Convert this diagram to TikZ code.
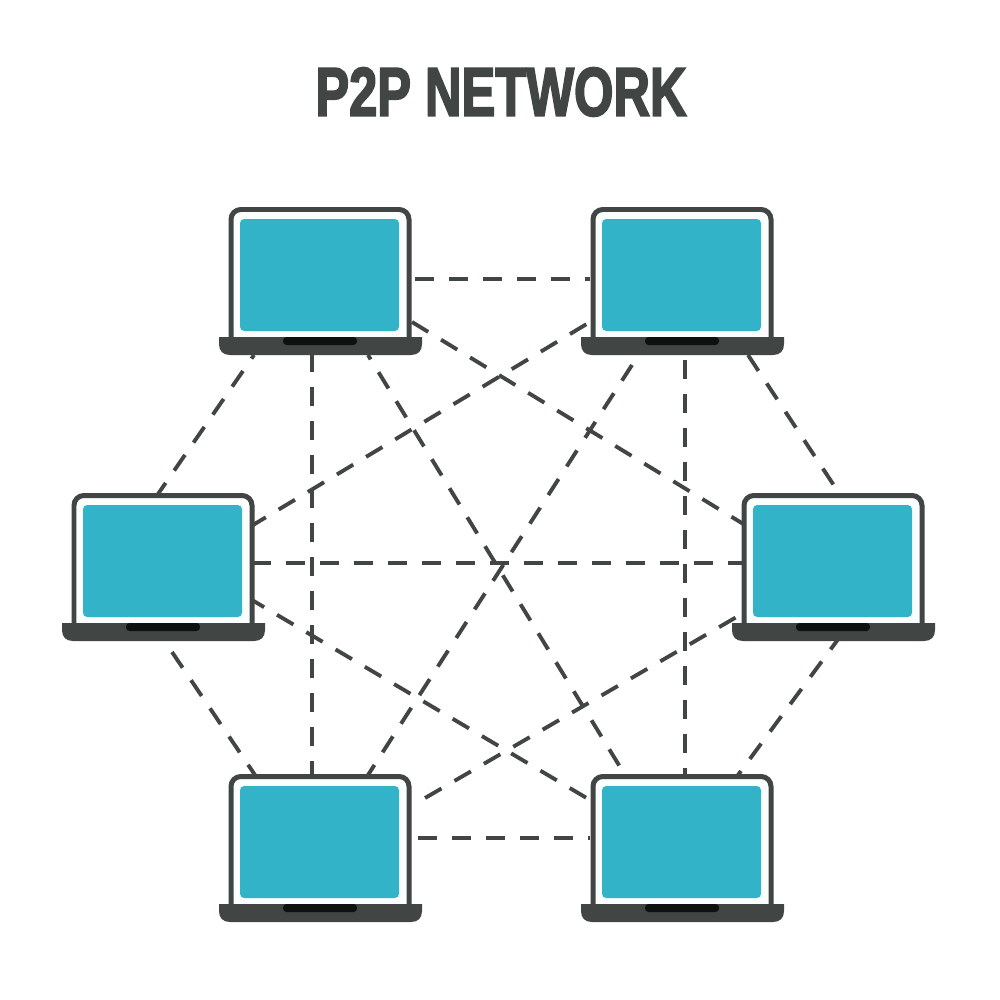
\documentclass[tikz,border=0pt]{standalone}
\usepackage{fontspec}
\newfontfamily\titlefont[UprightFont=* Bold,FakeBold=3]{Liberation Sans}
\definecolor{ink}{HTML}{414645}
\definecolor{scr}{HTML}{33B3C7}
\definecolor{notch}{HTML}{0F1111}
\definecolor{bezel}{HTML}{FBFEFE}
\tikzset{
  px/.style={x=0.01cm,y=-0.01cm},
  link/.style={draw=ink,line width=1.1pt,dash pattern=on 5.4pt off 4.27pt},
  laptopbox/.style={minimum width=2.03cm,minimum height=1.48cm,inner sep=0pt,outer sep=0pt},
  pics/laptop/.style={code={
    \draw[draw=ink,fill=bezel,line width=1.42pt,rounded corners=2.8pt] (-89,62) -- (-89,-70.5) -- (89,-70.5) -- (89,62);
    \fill[scr,rounded corners=1.2pt] (-80,-61) rectangle (79,51);
    \fill[ink] (-101,57) -- (102,57) -- (102,64) .. controls (102,71) and (98,75) .. (91,75) -- (-90,75) .. controls (-97,75) and (-101,71) .. (-101,64) -- cycle;
    \fill[notch,rounded corners=1pt] (-37,57) rectangle (37,65);
  }}
}
\begin{document}
\begin{tikzpicture}[px]
\useasboundingbox[fill=white] (0,0) rectangle (1000,1000);
\node[text=ink,inner sep=0pt] (title) at (501,92) {\resizebox{3.71cm}{0.48cm}{\titlefont P2P NETWORK}};
\node[laptopbox] (tl) at (320,280) {};
\node[laptopbox] (tr) at (682,280) {};
\node[laptopbox] (ml) at (163,566) {};
\node[laptopbox] (mr) at (833,566) {};
\node[laptopbox] (bl) at (320,847) {};
\node[laptopbox] (br) at (682,847) {};
\foreach \p/\a/\b/\q/\c/\d/\ph in {
 tl/95/-1/tr/-92/-1/0,
 tl/-66/75/ml/-5/-72/4.15,
 tl/-8/75/bl/-8/-72/0.57,
 br/-57/-72/tl/48/75/6.5,
 tl/92/42/mr/-88/-41/0,
 ml/90/-41/tr/-92/42/1.14,
 bl/48/-72/tr/-50/85/2,
 tr/3/75/br/3/-72/8.25,
 tr/66/75/mr/2/-79/0,
 ml/91/-3/mr/-91/-3/0.57,
 ml/9/86/bl/-65/-72/0,
 ml/89/34/br/-92/-47/1.4,
 bl/93/-42/mr/-93/49/5.7,
 mr/6/72/br/56/-72/1.37,
 bl/98/-9/br/-92/-9/0}
 {\draw[link,dash phase=\ph pt] ([shift={(\a,\b)}]\p.center) -- ([shift={(\c,\d)}]\q.center);}
\foreach \n in {tl,tr,ml,mr,bl,br}
 {\pic at (\n.center) {laptop};}
\end{tikzpicture}
\end{document}
